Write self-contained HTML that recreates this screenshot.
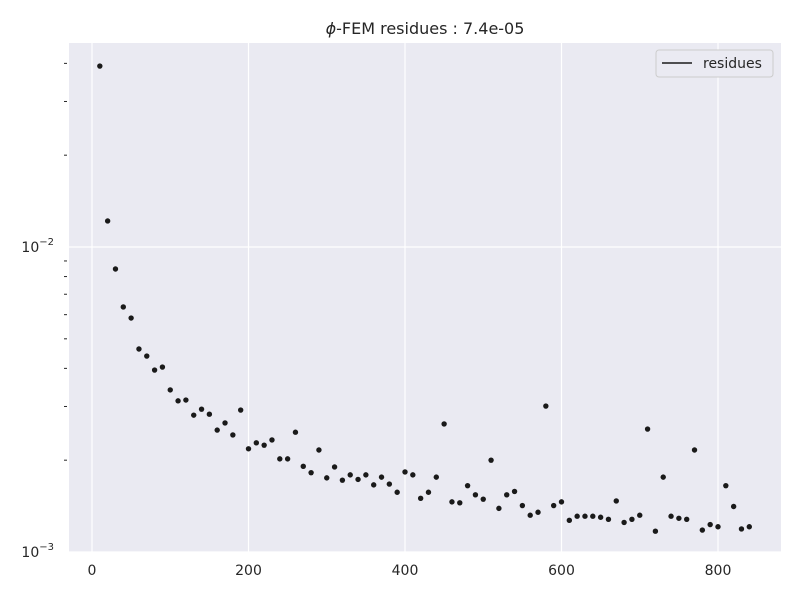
<!DOCTYPE html>
<html><head><meta charset="utf-8"><style>
body{margin:0;background:#fff;font-family:"Liberation Sans","DejaVu Sans",sans-serif}
svg text{font-family:"DejaVu Sans","Liberation Sans",sans-serif;fill:#262626}
</style></head><body>
<svg id="chart" width="800" height="600" xmlns="http://www.w3.org/2000/svg">
<rect x="69" y="43" width="712" height="509" fill="#eaeaf2"/>
<g id="grid"></g><g id="axes"></g><g id="pts"></g>
<text x="425" y="34" text-anchor="middle" font-size="16"><tspan font-style="italic">ϕ</tspan>-FEM residues : 7.4e-05</text>
<g>
<rect x="656" y="50" width="117" height="27" rx="3" fill="#eaeaf2" stroke="#cccccc"/>
<line x1="662" y1="63" x2="692" y2="63" stroke="#1a1a1a" stroke-width="1.6"/>
<text x="703" y="68" font-size="14">residues</text>
</g>
</svg>
<script>
const iterations=[10,20,30,40,50,60,70,80,90,100,110,120,130,140,150,160,170,180,190,200,210,220,230,240,250,260,270,280,290,300,310,320,330,340,350,360,370,380,390,400,410,420,430,440,450,460,470,480,490,500,510,520,530,540,550,560,570,580,590,600,610,620,630,640,650,660,670,680,690,700,710,720,730,740,750,760,770,780,790,800,810,820,830,840];
const residues=[0.0392,0.01217,0.00847,0.00636,0.00585,0.00463,0.00439,0.00395,0.00404,0.00340,0.00313,0.00315,0.00281,0.00294,0.00283,0.00251,0.00265,0.00242,0.00292,0.00218,0.00228,0.00224,0.00233,0.00202,0.00202,0.00247,0.00191,0.00182,0.00216,0.00175,0.00190,0.00172,0.00179,0.00173,0.00179,0.00166,0.00176,0.00167,0.00157,0.00183,0.00179,0.00150,0.00157,0.00176,0.00263,0.00146,0.00145,0.00165,0.00154,0.00149,0.00200,0.00139,0.00154,0.00158,0.00142,0.00132,0.00135,0.00301,0.00142,0.00146,0.00127,0.00131,0.00131,0.00131,0.00130,0.00128,0.00147,0.00125,0.00128,0.00132,0.00253,0.00117,0.00176,0.00131,0.00129,0.00128,0.00216,0.00118,0.00123,0.00121,0.00165,0.00141,0.00119,0.00121];
const xTicks=[0,200,400,600,800];
const yMajor=[-3,-2];
const yMinor=[0.002,0.003,0.004,0.005,0.006,0.007,0.008,0.009,0.02,0.03,0.04];
const NS="http://www.w3.org/2000/svg";
const X=v=>92+v*0.7825;
const Y=v=>552-(Math.log10(v)+3)*305;
function mk(t,a,p){const e=document.createElementNS(NS,t);for(const k in a)e.setAttribute(k,a[k]);p.appendChild(e);return e;}
const grid=document.getElementById('grid'),axes=document.getElementById('axes'),pts=document.getElementById('pts');
xTicks.forEach(t=>{
 const l=mk('line',{x1:X(t),x2:X(t),y1:43,y2:552,stroke:'#fff','stroke-width':1.2},grid);
 
 
 const tx=mk('text',{x:X(t),y:575,'text-anchor':'middle','font-size':14},axes);
 tx.textContent=t;
 
 
});
yMajor.forEach(p=>{
 const y=Y(Math.pow(10,p));
 const l=mk('line',{x1:69,x2:781,y1:y,y2:y,stroke:'#fff','stroke-width':1.2},grid);
 
 
 const tx=mk('text',{x:54,y:y+5,'text-anchor':'end','font-size':14},axes);
 tx.innerHTML='10<tspan dy="-7" font-size="10">−'+(-p)+'</tspan>';
 
 
});
yMinor.forEach(v=>{
 const y=Y(v);
 if(y<43)return;
 const l=mk('line',{x1:64,x2:67,y1:y,y2:y,stroke:'#262626','stroke-width':1},axes);
 
 
});
iterations.forEach((it,i)=>{
 const c=mk('circle',{cx:X(it),cy:Y(residues[i]),r:2.7,fill:'#1a1a1a'},pts);
 
 
});
</script>
</body></html>
